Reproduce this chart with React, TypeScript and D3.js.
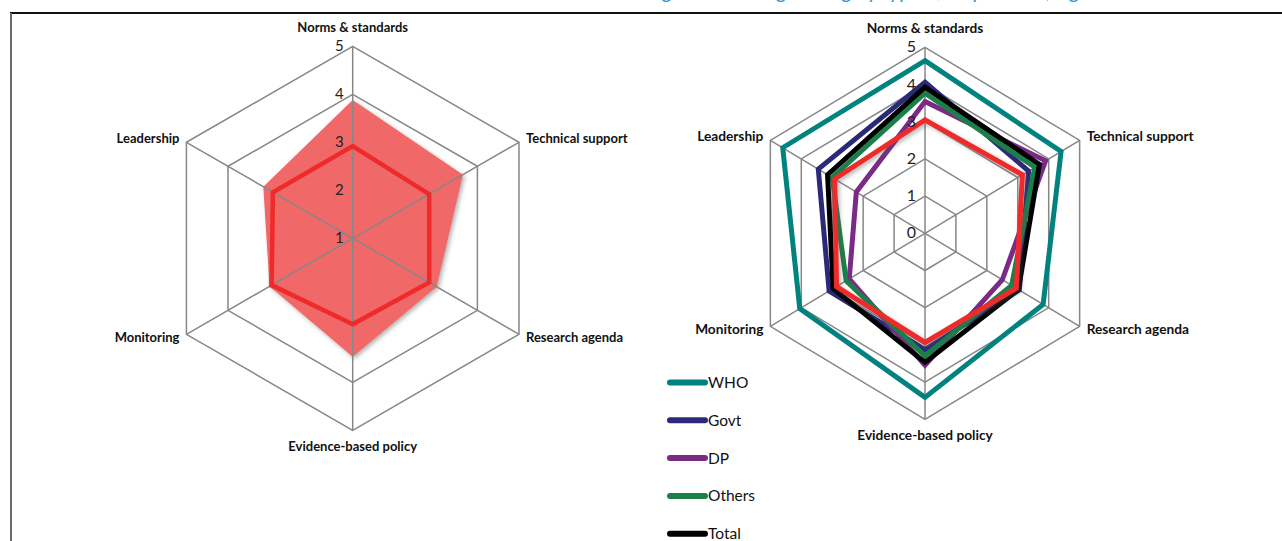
import React from "react";
import * as d3 from "d3";

const axes = ["Norms & standards", "Technical support", "Research agenda", "Evidence-based policy", "Monitoring", "Leadership"];

// Left chart
const leftTicks = [1, 2, 3, 4, 5];
const leftArea = [3.88, 3.65, 3.02, 3.47, 3.0, 3.15];
const leftLine = [2.92, 2.84, 2.84, 2.79, 2.95, 2.92];

// Right chart
const rightTicks = [0, 1, 2, 3, 4, 5];
const seriesNames = ["WHO", "Govt", "DP", "Others", "Total"];
const whoVals = [4.64, 4.4, 3.82, 4.41, 4.05, 4.6];
const govtVals = [4.06, 3.35, 3.05, 3.13, 3.1, 3.45];
const dpVals = [3.54, 3.9, 2.5, 3.55, 2.45, 2.22];
const othersVals = [3.77, 3.55, 2.8, 3.3, 2.55, 3.0];
const totalVals = [3.93, 3.7, 3.02, 3.47, 2.97, 3.15];
const redVals = [3.05, 3.15, 2.95, 2.93, 2.86, 2.92];
const seriesColors = ["#00827F", "#2A2A78", "#7B2A86", "#1A8048", "#000000"];
const redColor = "#EE2A2A";

type Radar = { cx: number; cy: number; r: d3.ScaleLinear<number, number>; sx: number };

function pt(rd: Radar, i: number, v: number): [number, number] {
  const a = (i * Math.PI * 2) / axes.length;
  const rr = rd.r(v);
  return [rd.cx + rd.sx * rr * Math.sin(a), rd.cy - rr * Math.cos(a)];
}

const closed = d3.line<[number, number]>().curve(d3.curveLinearClosed);

function poly(rd: Radar, vals: number[]) {
  return closed(vals.map((v, i) => pt(rd, i, v))) || "";
}

const gridColor = "#878787";
const font = "Lato, 'Open Sans', sans-serif";

function Grid({ rd, ticks, spokesOnly, ringsOnly }: { rd: Radar; ticks: number[]; spokesOnly?: boolean; ringsOnly?: boolean }) {
  const max = ticks[ticks.length - 1];
  const min = ticks[0];
  return (
    <g>
      {!spokesOnly &&
        ticks.slice(1).map((t) => (
          <path key={t} d={poly(rd, axes.map(() => t))} fill="none" stroke={gridColor} strokeWidth={1.5} />
        ))}
      {!ringsOnly &&
        axes.map((_, i) => {
          const [x1, y1] = pt(rd, i, min);
          const [x2, y2] = pt(rd, i, max);
          return <line key={i} x1={x1} y1={y1} x2={x2} y2={y2} stroke={gridColor} strokeWidth={1.5} />;
        })}
    </g>
  );
}

function AxisLabels({ rd, ticks, size, tickSize }: { rd: Radar; ticks: number[]; size: number; tickSize: number }) {
  const max = ticks[ticks.length - 1];
  return (
    <g fontFamily={font} fontWeight="bold" fontSize={size} fill="#111">
      {axes.map((name, i) => {
        const [x, y] = pt(rd, i, max);
        let anchor = "middle";
        let tx = x;
        let ty = y;
        if (i === 0) ty = y - 14;
        else if (i === 3) ty = y + 21;
        else if (i === 1 || i === 2) {
          anchor = "start";
          tx = x + 7;
          ty = y + (i === 1 ? 0.5 : 8);
        } else {
          anchor = "end";
          tx = x - 7;
          ty = y + (i === 5 ? 0.5 : 8);
        }
        return (
          <text key={name} x={tx} y={ty} textAnchor={anchor}>
            {name}
          </text>
        );
      })}
      {ticks.map((t) => {
        const [x, y] = pt(rd, 0, t);
        return (
          <text key={t} x={x - 9} y={y + 5} textAnchor="end" fontWeight="normal" fontSize={tickSize} fill="#222">
            {t}
          </text>
        );
      })}
    </g>
  );
}

export default function App() {
  const left: Radar = { cx: 352.7, cy: 238.3, r: d3.scaleLinear().domain([1, 5]).range([0, 192]), sx: 1 };
  const right: Radar = { cx: 925, cy: 233.3, r: d3.scaleLinear().domain([0, 5]).range([0, 186]), sx: 0.96 };
  const rightSeries = [whoVals, govtVals, dpVals, othersVals, totalVals];

  return (
    <svg width={1282} height={541} style={{ position: "absolute", left: 0, top: 0, background: "#fff" }}>
      <defs>
        <filter id="shadow" x="-10%" y="-10%" width="130%" height="130%">
          <feDropShadow dx={2} dy={2} stdDeviation={2} floodColor="#555" floodOpacity={0.45} />
        </filter>
      </defs>
      <rect x={0} y={0} width={1282} height={541} fill="#fff" />
      <text x={885} y={-2} textAnchor="middle" fontFamily={font} fontStyle="italic" fontSize={21} fill="#2E9BD6">
        Figure 4: Average rating by type of respondent, Uganda
      </text>
      <line x1={10} y1={13} x2={1282} y2={13} stroke="#111" strokeWidth={2} />
      <line x1={11} y1={13} x2={11} y2={541} stroke="#6b6b6b" strokeWidth={2} />

      {/* Left chart */}
      <Grid rd={left} ticks={leftTicks} ringsOnly />
      <path d={poly(left, leftArea)} fill="#F06767" filter="url(#shadow)" />
      <Grid rd={left} ticks={leftTicks} spokesOnly />
      <path d={poly(left, leftLine)} fill="none" stroke={redColor} strokeWidth={4.5} strokeLinejoin="miter" />
      <AxisLabels rd={left} ticks={leftTicks} size={13} tickSize={15} />

      {/* Right chart */}
      <Grid rd={right} ticks={rightTicks} />
      {rightSeries.map((vals, k) => (
        <path key={k} d={poly(right, vals)} fill="none" stroke={seriesColors[k]} strokeWidth={5} strokeLinejoin="miter" />
      ))}
      <path d={poly(right, redVals)} fill="none" stroke={redColor} strokeWidth={5} strokeLinejoin="miter" filter="url(#shadow)" />
      <AxisLabels rd={right} ticks={rightTicks} size={13.7} tickSize={16} />

      {/* Legend */}
      <g fontFamily={font} fontSize={15.5} fill="#111">
        {seriesNames.map((name, k) => {
          const y = 382.5 + k * 37.8;
          return (
            <g key={name}>
              <line x1={670} y1={y} x2={705} y2={y} stroke={seriesColors[k]} strokeWidth={6} strokeLinecap="round" />
              <text x={708} y={y + 5.5}>
                {name}
              </text>
            </g>
          );
        })}
      </g>
    </svg>
  );
}
